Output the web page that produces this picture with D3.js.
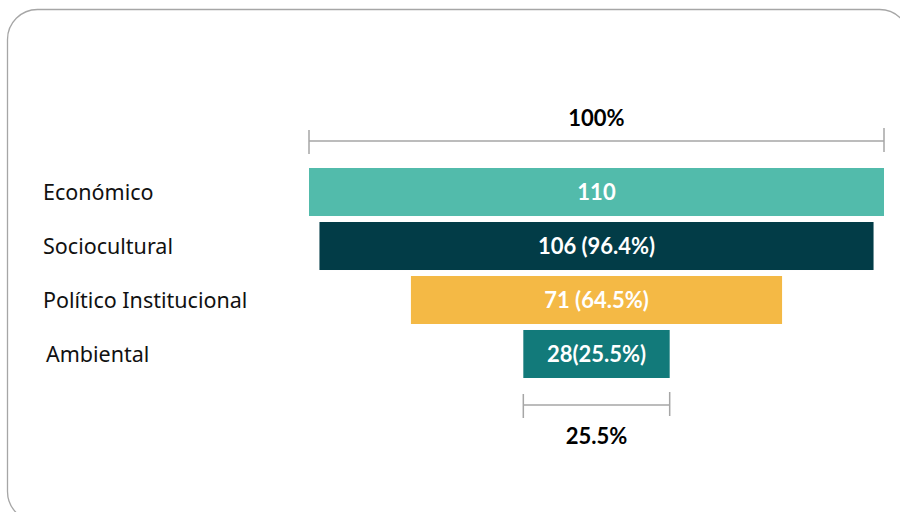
<!DOCTYPE html>
<html>
<head>
<meta charset="utf-8">
<script src="https://cdn.jsdelivr.net/npm/d3@7"></script>
<style>
  body { margin: 0; background: #fff; }
  svg { display: block; }
</style>
</head>
<body>
<svg class="funnel_svg"></svg>
<script>
const categories = ["Económico", "Sociocultural", "Político Institucional", "Ambiental"];
const values = [110, 106, 71, 28];
const barLabels = ["110", "106 (96.4%)", "71 (64.5%)", "28(25.5%)"];
const colors = ["#52bbab", "#023c47", "#f4b945", "#127a7a"];
const topPct = "100%";
const bottomPct = "25.5%";

const width = 900, height = 512;
const cx = 596.5;

const svg = d3.select(".funnel_svg")
    .attr("width", width)
    .attr("height", height);

// frame
svg.append("rect")
    .attr("x", 7.5).attr("y", 9.5)
    .attr("width", 902).attr("height", 512)
    .attr("rx", 30).attr("ry", 30)
    .attr("fill", "none")
    .attr("stroke", "#a6a6a6")
    .attr("stroke-width", 1.3);

const w = d3.scaleLinear().domain([0, d3.max(values)]).range([0, 575]);
const y = d3.scaleBand().domain(categories).range([168, 378]).paddingInner(0.111).paddingOuter(0);

// bars
svg.selectAll(".bar")
    .data(categories)
    .join("rect")
    .attr("class", "bar")
    .attr("x", (d, i) => cx - w(values[i]) / 2)
    .attr("y", d => y(d))
    .attr("width", (d, i) => w(values[i]))
    .attr("height", y.bandwidth())
    .attr("fill", (d, i) => colors[i]);

svg.selectAll(".bar-label")
    .data(categories)
    .join("text")
    .attr("class", "bar-label")
    .attr("x", cx)
    .attr("y", d => y(d) + y.bandwidth() / 2)
    .attr("dy", "0.35em")
    .attr("text-anchor", "middle")
    .attr("fill", "#fff")
    .style("font-family", "Lato, sans-serif")
    .style("font-weight", "bold")
    .style("font-size", "22px")
    .text((d, i) => barLabels[i]);

// category labels
const labelX = [43, 43, 43, 46];
svg.selectAll(".cat-label")
    .data(categories)
    .join("text")
    .attr("class", "cat-label")
    .attr("x", (d, i) => labelX[i])
    .attr("y", d => y(d) + y.bandwidth() / 2)
    .attr("dy", "0.35em")
    .attr("fill", "#111")
    .style("font-family", "'Noto Sans', sans-serif")
    .style("font-size", "21.5px")
    .text(d => d);

// brackets
function bracket(val, yLine, yLabel, label) {
    const x0 = cx - w(val) / 2, x1 = cx + w(val) / 2;
    const g = svg.append("g").attr("stroke", "#a6a6a6").attr("stroke-width", 1.5);
    g.append("line").attr("x1", x0).attr("x2", x1).attr("y1", yLine).attr("y2", yLine);
    g.append("line").attr("x1", x0).attr("x2", x0).attr("y1", yLine - 11).attr("y2", yLine + 13);
    g.append("line").attr("x1", x1).attr("x2", x1).attr("y1", yLine - 13).attr("y2", yLine + 11);
    svg.append("text")
        .attr("x", cx)
        .attr("y", yLabel)
        .attr("text-anchor", "middle")
        .attr("fill", "#000")
        .style("font-family", "Lato, sans-serif")
        .style("font-weight", "bold")
        .style("font-size", "22px")
        .text(label);
}
bracket(values[0], 141, 126, topPct);
bracket(values[values.length - 1], 405, 444, bottomPct);
</script>
</body>
</html>
